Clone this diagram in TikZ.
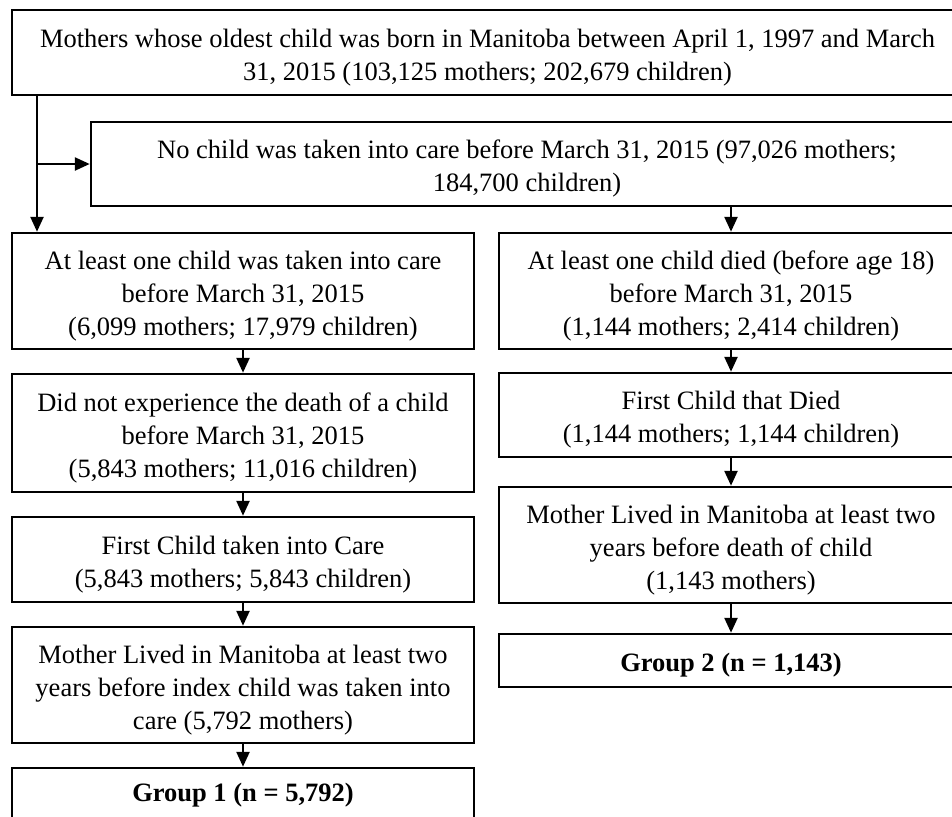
\documentclass[tikz,border=0pt]{standalone}
\usepackage{fontspec}
\setmainfont{Liberation Serif}
\usetikzlibrary{arrows.meta}
\newcommand\topstrut{\rule{0pt}{28pt}}
\begin{document}
\begin{tikzpicture}[x=1pt,y=-1pt,
  box/.style={draw=black, line width=2.5pt, rectangle, inner sep=0pt, align=center,
    font=\fontsize{26.5}{33}\selectfont},
  arr/.style={line width=2.5pt, -{Triangle[length=15pt,width=13pt]}}]
\useasboundingbox (0,0) rectangle (952,816);
\clip (0,0) rectangle (952,816);
% top
\node[box, minimum width=951pt, minimum height=85pt] (top) at (487.5,52.5)
  {\topstrut Mothers whose oldest child was born in Manitoba between April 1, 1997 and March\\31, 2015 (103,125 mothers; 202,679 children)};
\node[box, minimum width=872pt, minimum height=84pt] (no) at (527,164)
  {\topstrut No child was taken into care before March 31, 2015 (97,026 mothers;\\184,700 children)};
% left column
\node[box, minimum width=462pt, minimum height=116pt] (l1) at (243,291)
  {\topstrut At least one child was taken into care\\before March 31, 2015\\(6,099 mothers; 17,979 children)};
\node[box, minimum width=462pt, minimum height=118pt] (l2) at (243,433)
  {\topstrut Did not experience the death of a child\\before March 31, 2015\\(5,843 mothers; 11,016 children)};
\node[box, minimum width=462pt, minimum height=85pt] (l3) at (243,559.5)
  {\topstrut First Child taken into Care\\(5,843 mothers; 5,843 children)};
\node[box, minimum width=462pt, minimum height=116pt] (l4) at (243,685)
  {\topstrut Mother Lived in Manitoba at least two\\years before index child was taken into\\care (5,792 mothers)};
\node[box, minimum width=462pt, minimum height=90pt] (l5) at (243,813) {};
\node[font=\fontsize{26.5}{33}\selectfont\bfseries, inner sep=0pt] (g1) at (243,795) {Group 1 (n = 5,792)};
% right column
\node[box, minimum width=464pt, minimum height=116pt] (r1) at (731,291)
  {\topstrut At least one child died (before age 18)\\before March 31, 2015\\(1,144 mothers; 2,414 children)};
\node[box, minimum width=464pt, minimum height=84pt] (r2) at (731,415)
  {\topstrut First Child that Died\\(1,144 mothers; 1,144 children)};
\node[box, minimum width=464pt, minimum height=116pt] (r3) at (731,545)
  {\topstrut Mother Lived in Manitoba at least two\\years before death of child\\(1,143 mothers)};
\node[box, minimum width=464pt, minimum height=53pt, font=\fontsize{26.5}{33}\selectfont\bfseries] (r4) at (731,660.5)
  {\topstrut Group 2 (n = 1,143)};
% connectors
\coordinate (j) at (37,164);
\draw[arr] (top.south -| 37,0) -- (l1.north -| 37,0);
\draw[arr] (j) -- (no.west);
\draw[arr] (no.south -| r1.north) -- (r1.north);
\draw[arr] (l1) -- (l2);
\draw[arr] (l2) -- (l3);
\draw[arr] (l3) -- (l4);
\draw[arr] (l4.south) -- (l5.north);
\draw[arr] (r1) -- (r2);
\draw[arr] (r2) -- (r3);
\draw[arr] (r3) -- (r4);
\end{tikzpicture}
\end{document}
